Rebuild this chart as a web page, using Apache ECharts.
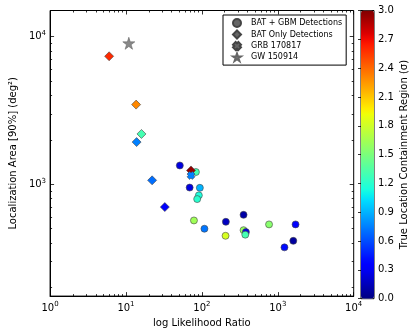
<!DOCTYPE html>
<html>
<head>
<meta charset="utf-8">
<script src="https://cdn.jsdelivr.net/npm/echarts@6/dist/echarts.min.js"></script>
<style>
html, body { margin: 0; padding: 0; background: #fff; }
#chart { width: 416px; height: 333px; }
</style>
</head>
<body>
<div id="chart"></div>
<script>
// [log likelihood ratio, 90% area (deg^2), true location containment (sigma)]
const batGbm = [
  [51.2, 1340, 0.25],
  [83.4, 1210, 1.3],
  [69.0, 950, 0.25],
  [94.0, 946, 0.9],
  [91.2, 841, 1.15],
  [86.7, 794, 1.2],
  [78.6, 569, 1.63],
  [108, 500, 0.72],
  [207, 557, 0.17],
  [205, 448, 1.83],
  [354, 621, 0.1],
  [354, 489, 1.6],
  [380, 475, 0.25],
  [373, 456, 1.3],
  [767, 535, 1.55],
  [1713, 535, 0.35],
  [1600, 414, 0.08],
  [1224, 374, 0.4]
]
const batOnly = [
  [6.0, 7350, 2.6],
  [13.6, 3460, 2.3],
  [16.0, 2190, 1.3],
  [13.8, 1930, 0.75],
  [71.9, 1240, 2.95],
  [22.1, 1063, 0.7],
  [32.5, 701, 0.35]
]
const grb170817 = [[71.9, 1148, 0.75]]
const gw150914 = [[10.9, 9000]]

const xMajor = [1, 10, 100, 1000, 10000]
const xMinor = [2, 3, 4, 5, 6, 7, 8, 9, 20, 30, 40, 50, 60, 70, 80, 90,
  200, 300, 400, 500, 600, 700, 800, 900, 2000, 3000, 4000, 5000, 6000, 7000, 8000, 9000]
const yMajor = [1000, 10000]
const yMinor = [200, 300, 400, 500, 600, 700, 800, 900, 2000, 3000, 4000, 5000, 6000, 7000, 8000, 9000]

const FONT = 'DejaVu Sans'
const STAR = 'path://M0,-1L0.2245,-0.309L0.951,-0.309L0.363,0.118L0.588,0.809L0,0.382L-0.588,0.809L-0.363,0.118L-0.951,-0.309L-0.2245,-0.309Z'
const CROSS = 'path://M-1,-3L0,-2L1,-3L3,-1L2,0L3,1L1,3L0,2L-1,3L-3,1L-2,0L-3,-1Z'

// matplotlib jet colormap, sampled for the visualMap
function jet(t) {
  const seg = (pts) => {
    for (let i = 1; i < pts.length; i++) {
      if (t <= pts[i][0]) {
        const [x0, y0] = pts[i - 1], [x1, y1] = pts[i]
        return y0 + (y1 - y0) * (t - x0) / (x1 - x0)
      }
    }
    return pts[pts.length - 1][1]
  }
  const r = seg([[0, 0], [0.35, 0], [0.66, 1], [0.89, 1], [1, 0.5]])
  const g = seg([[0, 0], [0.125, 0], [0.375, 1], [0.64, 1], [0.91, 0], [1, 0]])
  const b = seg([[0, 0.5], [0.11, 1], [0.34, 1], [0.65, 0], [1, 0]])
  return 'rgb(' + [r, g, b].map(v => Math.round(v * 255)).join(',') + ')'
}
const jetColors = []
for (let i = 0; i <= 50; i++) jetColors.push(jet(i / 50))

const supLabel = (v) => '{b|10}{s|' + Math.round(Math.log10(v)) + '}'
const richSup = {
  b: { fontSize: 10, fontFamily: FONT, color: '#000', lineHeight: 14 },
  s: { fontSize: 7, fontFamily: FONT, color: '#000', lineHeight: 8, verticalAlign: 'top' }
}

function logAxis(kind, pos, ticks, len, labels, extra) {
  const isX = kind === 'x'
  return Object.assign({
    type: 'log',
    logBase: 10,
    gridIndex: 0,
    position: pos,
    min: isX ? 1 : 175,
    max: isX ? 10000 : 15000,
    axisLine: { show: labels, lineStyle: { color: '#000', width: 1 } },
    axisTick: { show: true, inside: true, length: len, customValues: ticks, lineStyle: { color: '#000', width: 0.8 } },
    axisLabel: labels ? {
      show: true, customValues: ticks, formatter: supLabel, rich: richSup, margin: isX ? 5 : 4
    } : { show: false },
    splitLine: { show: false },
    minorTick: { show: false }
  }, extra || {})
}

const chart = echarts.init(document.getElementById('chart'))

chart.setOption({
  animation: false,
  backgroundColor: '#fff',
  textStyle: { fontFamily: FONT },
  grid: [
    { left: 44, top: 10.5, width: 309.7, height: 288.2, show: true, borderColor: '#000', borderWidth: 1, backgroundColor: 'transparent' },
    { left: 361, top: 10.5, width: 13, height: 288.2, show: true, borderColor: '#000', borderWidth: 1, backgroundColor: 'transparent' }
  ],
  xAxis: [
    logAxis('x', 'bottom', xMajor, 4, true, {
      name: 'log Likelihood Ratio', nameLocation: 'middle', nameGap: 18,
      nameTextStyle: { fontSize: 10, fontFamily: FONT, color: '#000' }
    }),
    logAxis('x', 'top', xMajor, 4, false),
    logAxis('x', 'bottom', xMinor, 2, false),
    logAxis('x', 'top', xMinor, 2, false),
    { type: 'value', gridIndex: 1, min: 0, max: 1, show: false }
  ],
  yAxis: [
    logAxis('y', 'left', yMajor, 4, true, {
      name: 'Localization Area [90%] (deg²)', nameLocation: 'middle', nameGap: 27,
      nameTextStyle: { fontSize: 10, fontFamily: FONT, color: '#000' }
    }),
    logAxis('y', 'right', yMajor, 4, false),
    logAxis('y', 'left', yMinor, 2, false),
    logAxis('y', 'right', yMinor, 2, false),
    {
      type: 'value', gridIndex: 1, position: 'right', min: 0, max: 3, interval: 0.3,
      axisLine: { show: false },
      axisTick: { show: true, inside: true, length: 3, lineStyle: { color: '#000', width: 0.8 } },
      axisLabel: { margin: 4, fontSize: 10, fontFamily: FONT, color: '#000', formatter: v => v.toFixed(1) },
      splitLine: { show: false },
      name: 'True Location Containment Region (σ)', nameLocation: 'middle', nameGap: 25, nameRotate: 90,
      nameTextStyle: { fontSize: 10, fontFamily: FONT, color: '#000' }
    }
  ],
  visualMap: {
    type: 'continuous', min: 0, max: 3, dimension: 2, seriesIndex: [0, 1, 2],
    inRange: { color: jetColors },
    left: 361, top: 10.5, itemWidth: 13, itemHeight: 288.2, padding: 0,
    calculable: false, text: null, hoverLink: false, z: 1
  },
  legend: {
    orient: 'vertical', left: 223, top: 15,
    padding: [3, 4, 3, 9], itemGap: 1.5, itemWidth: 8, itemHeight: 8,
    borderColor: '#000', borderWidth: 1, backgroundColor: '#fff',
    textStyle: { fontSize: 8, fontFamily: FONT, color: '#000', padding: [0, 0, 0, 5] },
    data: [
      { name: 'BAT + GBM Detections', icon: 'circle' },
      { name: 'BAT Only Detections', icon: 'diamond' },
      { name: 'GRB 170817', icon: CROSS },
      { name: 'GW 150914', icon: STAR }
    ]
  },
  series: [
    {
      type: 'scatter', name: 'BAT + GBM Detections', xAxisIndex: 0, yAxisIndex: 0,
      data: batGbm, symbol: 'circle', symbolSize: 7,
      itemStyle: { color: '#666', borderColor: '#444', borderWidth: 0.6, opacity: 1 }
    },
    {
      type: 'scatter', name: 'BAT Only Detections', xAxisIndex: 0, yAxisIndex: 0,
      data: batOnly, symbol: 'diamond', symbolSize: 9,
      itemStyle: { color: '#666', borderColor: '#444', borderWidth: 0.6, opacity: 1 }
    },
    {
      type: 'scatter', name: 'GRB 170817', xAxisIndex: 0, yAxisIndex: 0,
      data: grb170817, symbolSize: 8, symbol: CROSS,
      itemStyle: { color: '#666', borderColor: '#444', borderWidth: 0.6, opacity: 1 }
    },
    {
      type: 'scatter', name: 'GW 150914', xAxisIndex: 0, yAxisIndex: 0,
      data: gw150914, symbolSize: 12, symbol: STAR,
      itemStyle: { color: '#888', borderColor: '#666', borderWidth: 0.6, opacity: 1 }
    }
  ]
})
</script>
</body>
</html>
